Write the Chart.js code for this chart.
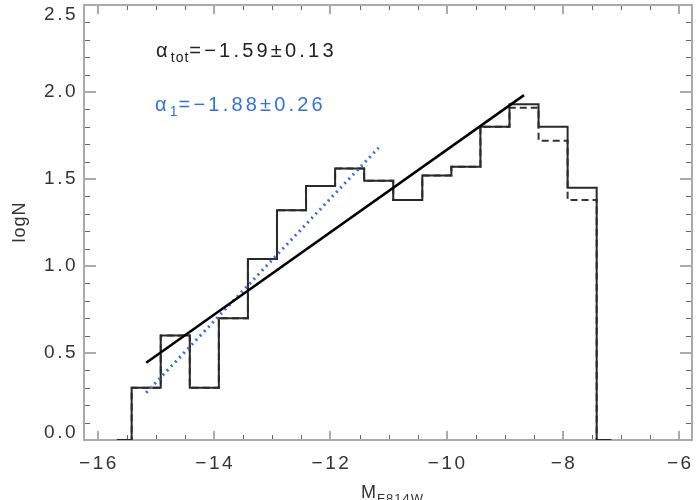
<!DOCTYPE html>
<html>
<head>
<meta charset="utf-8">
<script src="https://cdn.jsdelivr.net/npm/chart.js@4/dist/chart.umd.min.js"></script>
<style>
  body { margin: 0; background: #fff; }
</style>
</head>
<body>
<canvas id="myChart" width="700" height="500"></canvas>
<script>
// bin centres (M_F814W) and log counts
let binCenters = [-15.67, -15.17, -14.67, -14.17, -13.67, -13.17, -12.67, -12.17, -11.67,
                  -11.17, -10.67, -10.17, -9.67, -9.17, -8.67, -8.17, -7.67, -7.17];
let logN = [0, 0.30, 0.60, 0.30, 0.70, 1.04, 1.32, 1.46, 1.56,
            1.49, 1.38, 1.52, 1.57, 1.80, 1.93, 1.80, 1.45, 0];
let logNdashed = [0, 0.30, 0.60, 0.30, 0.70, 1.04, 1.32, 1.46, 1.56,
                  1.49, 1.38, 1.52, 1.57, 1.80, 1.91, 1.72, 1.38, 0];

// power-law fits
let fitTotX = [-15.17, -8.67];
let fitTotY = [0.444, 1.982];
let fit1X = [-15.17, -11.17];
let fit1Y = [0.272, 1.68];

let xTicks = [-16, -14, -12, -10, -8, -6];
let yTicks = [0.0, 0.5, 1.0, 1.5, 2.0, 2.5];

let blue = '#3170e6';
let font = '"Liberation Sans", Arial, sans-serif';

function pts(xs, ys) {
    return xs.map((v, i) => ({x: v, y: ys[i]}));
}

function seg(ctx, x1, y1, x2, y2) {
    ctx.beginPath();
    ctx.moveTo(x1, y1);
    ctx.lineTo(x2, y2);
    ctx.stroke();
}

// draws text pieces one after another; sub pieces are smaller and lower
function richText(ctx, x, y, parts, color, size, spacing) {
    ctx.fillStyle = color;
    ctx.textBaseline = 'alphabetic';
    ctx.textAlign = 'left';
    parts.forEach(p => {
        ctx.font = (p.sub ? Math.round(size * 0.72) : size) + 'px ' + font;
        ctx.letterSpacing = (p.sub ? 1 : spacing) + 'px';
        ctx.fillText(p.t, x, y + (p.sub ? 5 : 0));
        x += ctx.measureText(p.t).width;
    });
    ctx.letterSpacing = '0px';
}

// IDL style frame: box, inward ticks on all four sides, labels
const frame = {
    id: 'frame',
    beforeDatasetsDraw(chart) {
        const {ctx, chartArea: a, scales: {x, y}} = chart;
        ctx.save();
        // minor ticks
        ctx.strokeStyle = '#666';
        ctx.lineWidth = 1;
        for (let v = -16; v <= -6; v += 0.5) {
            if (xTicks.includes(v)) continue;
            const px = Math.round(x.getPixelForValue(v)) + 0.5;
            seg(ctx, px, a.bottom, px, a.bottom - 5);
            seg(ctx, px, a.top, px, a.top + 5);
        }
        for (let k = 0; k <= 25; k++) {
            if (k % 5 === 0) continue;
            const py = Math.round(y.getPixelForValue(k / 10)) + 0.5;
            seg(ctx, a.left, py, a.left + 6, py);
            seg(ctx, a.right, py, a.right - 6, py);
        }
        // major ticks
        ctx.strokeStyle = '#aaa';
        ctx.lineWidth = 2;
        xTicks.forEach(v => {
            const px = Math.round(x.getPixelForValue(v));
            seg(ctx, px, a.bottom, px, a.bottom - 9);
            seg(ctx, px, a.top, px, a.top + 9);
        });
        yTicks.forEach(v => {
            const py = Math.round(y.getPixelForValue(v));
            seg(ctx, a.left, py, a.left + 12, py);
            seg(ctx, a.right, py, a.right - 12, py);
        });
        // box
        ctx.strokeRect(a.left, a.top, a.right - a.left, a.bottom - a.top);
        ctx.restore();
    },
    afterDraw(chart) {
        const {ctx, chartArea: a, scales: {x, y}} = chart;
        ctx.save();
        ctx.fillStyle = '#333';
        ctx.font = '19px ' + font;
        ctx.letterSpacing = '2.5px';
        ctx.textAlign = 'center';
        ctx.textBaseline = 'top';
        xTicks.forEach(v => {
            ctx.fillText('\u2212' + Math.abs(v), x.getPixelForValue(v) + 1, a.bottom + 14);
        });
        ctx.textAlign = 'right';
        ctx.textBaseline = 'middle';
        yTicks.forEach(v => {
            let py = y.getPixelForValue(v);
            py = Math.min(Math.max(py, a.top + 10), a.bottom - 7);
            ctx.fillText(v.toFixed(1), a.left - 6, py);
        });
        ctx.letterSpacing = '0px';

        // axis titles
        ctx.fillStyle = '#333';
        ctx.font = '18px ' + font;
        ctx.letterSpacing = '1px';
        ctx.textAlign = 'center';
        ctx.save();
        ctx.translate(20, 222);
        ctx.rotate(-Math.PI / 2);
        ctx.fillText('logN', 0, 0);
        ctx.restore();
        richText(ctx, 361, 498, [{t: 'M'}, {t: 'F814W', sub: true}], '#333', 18, 1);

        // fit labels
        richText(ctx, 156, 57, [{t: '\u03b1'}, {t: 'tot', sub: true}, {t: '=\u22121.59\u00b10.13'}], '#222', 20, 3.2);
        richText(ctx, 155, 111, [{t: '\u03b1'}, {t: '1', sub: true}, {t: '=\u22121.88\u00b10.26'}], blue, 20, 3.2);
        ctx.restore();
    }
};

let myChart = document.getElementById('myChart').getContext('2d');

let chart = new Chart(myChart, {
    type: 'line',
    data: {
        datasets: [
            {
                data: pts(fitTotX, fitTotY),
                borderColor: '#000',
                borderWidth: 2.5,
                order: 0
            },
            {
                data: pts(fit1X, fit1Y),
                borderColor: blue,
                borderWidth: 3,
                borderDash: [2, 4],
                borderCapStyle: 'butt',
                order: 1
            },
            {
                data: pts(binCenters, logN),
                borderColor: '#2a2a2a',
                borderWidth: 2,
                stepped: 'middle',
                order: 2
            },
            {
                data: pts(binCenters, logNdashed),
                borderColor: '#333',
                borderWidth: 2,
                borderDash: [7, 4],
                stepped: 'middle',
                order: 3
            }
        ]
    },
    options: {
        responsive: false,
        animation: false,
        layout: {padding: {left: 0, right: 8, top: 5, bottom: 0}},
        elements: {point: {radius: 0}, line: {tension: 0}},
        plugins: {
            legend: {display: false},
            tooltip: {enabled: false}
        },
        scales: {
            x: {
                type: 'linear',
                min: -16.24,
                max: -5.78,
                grid: {display: false},
                border: {display: false},
                ticks: {display: false},
                afterFit: s => { s.height = 60; }
            },
            y: {
                min: 0,
                max: 2.5,
                grid: {display: false},
                border: {display: false},
                ticks: {display: false},
                afterFit: s => { s.width = 84; }
            }
        }
    },
    plugins: [frame]
});
</script>
</body>
</html>
